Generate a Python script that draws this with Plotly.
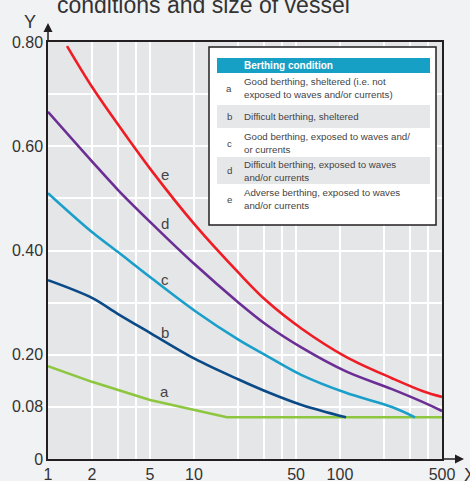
import numpy as np
import plotly.graph_objects as go

# ---- data ----
e_x = [1.35, 2.0, 3.02, 5.0, 10.16, 20.4, 31.5, 54.7, 110, 227, 370.6, 500]
e_y = [0.792, 0.714, 0.6415, 0.557, 0.449, 0.356, 0.303, 0.250, 0.196, 0.155, 0.130, 0.119]

d_x = [1, 2.0, 3.02, 5.0, 10.16, 20.4, 31.5, 54.7, 110, 227, 370.6, 500]
d_y = [0.666, 0.571, 0.516, 0.455, 0.373, 0.299, 0.257, 0.2135, 0.168, 0.134, 0.109, 0.092]

c_x = [1, 2.0, 3.02, 5.0, 10.16, 20.4, 31.5, 54.7, 110, 227, 326.6]
c_y = [0.510, 0.4355, 0.397, 0.349, 0.284, 0.228, 0.198, 0.161, 0.127, 0.0998, 0.080]

b_x = [1, 2.0, 3.02, 5.0, 10.16, 20.4, 31.5, 54.7, 110]
b_y = [0.343, 0.309, 0.278, 0.242, 0.192, 0.152, 0.129, 0.1036, 0.080]

a_x = [1, 2.0, 5.0, 10.16, 16.8, 500]
a_y = [0.178, 0.148, 0.113, 0.094, 0.080, 0.080]

x_tickvals = [1, 2, 3, 4, 5, 10, 20, 30, 40, 50, 100, 200, 300, 400, 500]
x_ticktext = ["1", "2", "", "", "5", "10", "", "", "", "50", "100", "", "", "", "500"]
y_tickvals = [0, 0.1, 0.2, 0.3, 0.4, 0.5, 0.6, 0.7, 0.8]
y_ticktext = ["0", "0.08", "0.20", "", "0.40", "", "0.60", "", "0.80"]

curve_letters = ["e", "d", "c", "b", "a"]
letter_x = [6.3, 6.3, 6.3, 6.3, 6.3]
letter_y = [0.545, 0.451, 0.345, 0.242, 0.129]

table_letters = ["a", "b", "c", "d", "e"]
table_texts = [
    "Good berthing, sheltered (i.e. not<br>exposed to waves and/or currents)",
    "Difficult berthing, sheltered",
    "Good berthing, exposed to waves and/<br>or currents",
    "Difficult berthing, exposed to waves<br>and/or currents",
    "Adverse berthing, exposed to waves<br>and/or currents",
]

# ---- styling ----
W, H = 470, 481
L, R, T, B = 48, 442, 42, 459
FONT = "Liberation Sans, Arial, sans-serif"
TXT = "#333333"

def px(xp):
    return (xp - L) / (R - L)

def py(yp):
    return (B - yp) / (B - T)

fig = go.Figure()
series = [
    (a_x, a_y, "#8dc63f", "linear"),
    (b_x, b_y, "#0a4a86", "spline"),
    (c_x, c_y, "#1a9fca", "spline"),
    (d_x, d_y, "#6b2e94", "spline"),
    (e_x, e_y, "#ee1d25", "spline"),
]
for xs, ys, col, shp in series:
    fig.add_trace(go.Scatter(x=xs, y=ys, mode="lines",
                             line=dict(color=col, width=2.6, shape=shp, smoothing=1.0),
                             showlegend=False, hoverinfo="skip"))

fig.update_layout(
    width=W, height=H,
    margin=dict(l=L, r=W - R, t=T, b=H - B, autoexpand=False),
    paper_bgcolor="#f1f2f3", plot_bgcolor="#e5e6e8",
    font=dict(family=FONT, color=TXT, size=16),
    showlegend=False,
)
fig.update_xaxes(type="log", range=[0, np.log10(500)], tickvals=x_tickvals, ticktext=x_ticktext,
                 showgrid=True, gridcolor="white", gridwidth=1.5, zeroline=False,
                 showline=True, linecolor="#231f20", linewidth=1.5, mirror=True,
                 ticks="", tickfont=dict(size=16, color=TXT), automargin=False)
fig.update_yaxes(range=[0, 0.8], tickvals=y_tickvals, ticktext=y_ticktext,
                 showgrid=True, gridcolor="white", gridwidth=1.5, zeroline=False,
                 showline=True, linecolor="#231f20", linewidth=1.5, mirror=True,
                 ticks="", tickfont=dict(size=16, color=TXT), automargin=False)

ann = []
for t, xv, yv in zip(curve_letters, letter_x, letter_y):
    ann.append(dict(x=np.log10(xv), y=yv, xref="x", yref="y", text=t, showarrow=False,
                    xanchor="center", yanchor="middle", font=dict(size=15, color="#444444")))

# axis arrows
ann.append(dict(x=0, y=py(23), xref="paper", yref="paper", ax=0, ay=20, text="",
                showarrow=True, arrowhead=2, arrowsize=1.2, arrowwidth=1.5, arrowcolor="#231f20"))
ann.append(dict(x=px(464), y=0, xref="paper", yref="paper", ax=-22, ay=0, text="",
                showarrow=True, arrowhead=2, arrowsize=1.2, arrowwidth=1.5, arrowcolor="#231f20"))
# axis names
ann.append(dict(x=px(30), y=py(22), xref="paper", yref="paper", text="Y", showarrow=False,
                xanchor="center", yanchor="middle", font=dict(size=18, color=TXT)))
ann.append(dict(x=px(462), y=py(475), xref="paper", yref="paper", text="X", showarrow=False,
                xanchor="left", yanchor="middle", font=dict(size=18, color=TXT)))
# title (cut by the top edge)
ann.append(dict(x=px(55), y=py(5), xref="paper", yref="paper", text="conditions and size of vessel",
                showarrow=False, xanchor="left", yanchor="middle", font=dict(size=23, color=TXT)))

# ---- table (legend) ----
shapes = [
    dict(type="rect", xref="paper", yref="paper", x0=px(209), x1=px(436), y0=py(225), y1=py(47),
         fillcolor="white", line=dict(color="#231f20", width=1.5), layer="above"),
    dict(type="rect", xref="paper", yref="paper", x0=px(217), x1=px(430), y0=py(73), y1=py(58),
         fillcolor="#17a0c6", line=dict(width=0), layer="above"),
    dict(type="rect", xref="paper", yref="paper", x0=px(217), x1=px(430), y0=py(128), y1=py(105),
         fillcolor="#e6e7e9", line=dict(width=0), layer="above"),
    dict(type="rect", xref="paper", yref="paper", x0=px(217), x1=px(430), y0=py(184), y1=py(157),
         fillcolor="#e6e7e9", line=dict(width=0), layer="above"),
]
ann.append(dict(x=px(242), y=py(65.5), xref="paper", yref="paper", text="<b>Berthing condition</b>",
                showarrow=False, xanchor="left", yanchor="middle", font=dict(size=10, color="white")))
row_centers = [88, 116.5, 143, 170.5, 199]
for letter, txt, yc in zip(table_letters, table_texts, row_centers):
    ann.append(dict(x=px(229), y=py(yc), xref="paper", yref="paper", text=letter, showarrow=False,
                    xanchor="center", yanchor="middle", font=dict(size=9.7, color="#444444")))
    ann.append(dict(x=px(242), y=py(yc), xref="paper", yref="paper", text=txt, showarrow=False,
                    xanchor="left", yanchor="middle", align="left",
                    font=dict(size=9.7, color="#444444")))

fig.update_layout(annotations=ann, shapes=shapes)
fig.write_html("out.html", config={"displayModeBar": False},
               post_script="document.body.style.margin='0';document.body.style.overflow='hidden';")
